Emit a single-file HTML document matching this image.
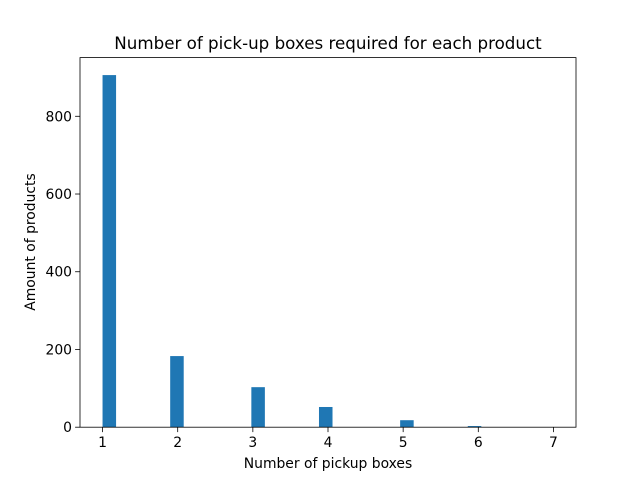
<!DOCTYPE html>
<html><head><meta charset="utf-8"><style>
body{margin:0;background:#fff;font-family:"Liberation Sans","DejaVu Sans",sans-serif}
svg text{font-family:"DejaVu Sans","Liberation Sans",sans-serif;fill:#000}
</style></head><body>
<svg id="c" width="640" height="480" xmlns="http://www.w3.org/2000/svg"></svg>
<script>
const binIndex=[0,5,11,16,22,27];
const counts=[906,183,103,52,18,3];
const xTicks=[1,2,3,4,5,6,7];
const yTicks=[0,200,400,600,800];
const binStart=1, binW=0.18;
const L=80,R=576,T=57.6,B=427.2;
const xmin=0.7,xmax=7.3,ymax=951;
const X=v=>L+(v-xmin)/(xmax-xmin)*(R-L);
const Y=v=>B-v/ymax*(B-T);
const s=document.getElementById('c');const NS='http://www.w3.org/2000/svg';
function mk(t,a,p){const e=document.createElementNS(NS,t);for(const k in a)e.setAttribute(k,a[k]);(p||s).appendChild(e);return e;}
const bars=mk('g',{});


binIndex.forEach((b,i)=>{const x0=X(binStart+b*binW),x1=X(binStart+(b+1)*binW);
const r=mk('rect',{x:x0,y:Y(counts[i]),width:x1-x0,height:B-Y(counts[i]),fill:'#1f77b4'},bars);

});
const ax=mk('rect',{x:L,y:T,width:R-L,height:B-T,fill:'none',stroke:'#000','stroke-width':0.8});


xTicks.forEach(t=>{mk('line',{x1:X(t),x2:X(t),y1:B,y2:B+4.9,stroke:'#000','stroke-width':0.8});
const e=mk('text',{x:X(t),y:B+20,'text-anchor':'middle','font-size':13.9});e.textContent=t;

});
yTicks.forEach(t=>{mk('line',{x1:L-4.9,x2:L,y1:Y(t),y2:Y(t),stroke:'#000','stroke-width':0.8});
const e=mk('text',{x:L-8,y:Y(t)+5,'text-anchor':'end','font-size':13.9});e.textContent=t;

});
let e=mk('text',{x:328,y:468,'text-anchor':'middle','font-size':13.9});e.textContent='Number of pickup boxes';


e=mk('text',{x:0,y:0,'text-anchor':'middle','font-size':13.9,transform:'translate(35,242) rotate(-90)'});e.textContent='Amount of products';


e=mk('text',{x:328,y:49,'text-anchor':'middle','font-size':16.7});e.textContent='Number of pick-up boxes required for each product';


</script></body></html>
